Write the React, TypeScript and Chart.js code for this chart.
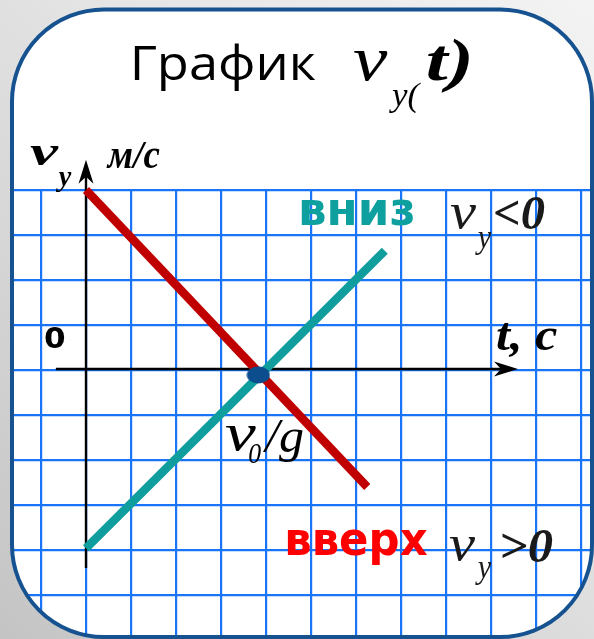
import React, { useEffect, useRef } from "react";
import { Chart, registerables } from "chart.js";

Chart.register(...registerables);

// ---- data (time in grid units, velocity in grid units) ----
const redT = [0, 6.25];
const redV = [4, -2.6];
const tealT = [0, 6.64];
const tealV = [-3.96, 2.65];
const dotT = [3.83];
const dotV = [-0.11];

// axis extents in data units
const xAxisFrom = -0.67;
const xAxisTo = 9.6;
const yAxisFrom = -4.4;
const yAxisTo = 4.67;

// scale ranges (1 unit = one grid cell)
const xMin = -1.6444;
const xMax = 11.2444;
const yMin = -5.9778;
const yMax = 4;

const titleText = "График";
const labelDown = "вниз";
const labelUp = "вверх";
const zeroLabel = "0";
const unitLabel = "м/с";
const timeLabel = "t, c";

const W = 594;
const H = 639;
const RECT = { x: 12, y: 9.5, w: 580, h: 627.5, r: 92 };

const SERIF = '"Liberation Serif", "DejaVu Serif", serif';
const SANS = '"Open Sans", "DejaVu Sans", sans-serif';
const BOLDSANS = '"DejaVu Sans", "Open Sans", sans-serif';

function roundRectPath(ctx: CanvasRenderingContext2D) {
  const { x, y, w, h, r } = RECT;
  ctx.beginPath();
  ctx.moveTo(x + r, y);
  ctx.lineTo(x + w - r, y);
  ctx.arcTo(x + w, y, x + w, y + r, r);
  ctx.lineTo(x + w, y + h - r);
  ctx.arcTo(x + w, y + h, x + w - r, y + h, r);
  ctx.lineTo(x + r, y + h);
  ctx.arcTo(x, y + h, x, y + h - r, r);
  ctx.lineTo(x, y + r);
  ctx.arcTo(x, y, x + r, y, r);
  ctx.closePath();
}

function txt(
  ctx: CanvasRenderingContext2D,
  text: string,
  x: number,
  baseline: number,
  font: string,
  color: string,
  targetWidth?: number
) {
  ctx.save();
  ctx.font = font;
  ctx.fillStyle = color;
  ctx.textAlign = "left";
  ctx.textBaseline = "alphabetic";
  const m = ctx.measureText(text);
  const ink = m.actualBoundingBoxRight + m.actualBoundingBoxLeft;
  const s = targetWidth && ink > 0 ? targetWidth / ink : 1;
  ctx.translate(x, baseline);
  ctx.scale(s, 1);
  ctx.fillText(text, m.actualBoundingBoxLeft, 0);
  ctx.restore();
}

function arrowHead(
  ctx: CanvasRenderingContext2D,
  tipX: number,
  tipY: number,
  dir: "up" | "right"
) {
  ctx.save();
  ctx.translate(tipX, tipY);
  if (dir === "right") ctx.rotate(Math.PI / 2);
  ctx.beginPath();
  ctx.moveTo(0, 0);
  ctx.lineTo(7.5, 24);
  ctx.lineTo(0, 17);
  ctx.lineTo(-7.5, 24);
  ctx.closePath();
  ctx.fillStyle = "#000";
  ctx.fill();
  ctx.restore();
}

const slidePlugin = {
  id: "slide",
  beforeDraw(chart: any) {
    const ctx: CanvasRenderingContext2D = chart.ctx;
    ctx.save();
    const g = ctx.createLinearGradient(0, H, W, 0);
    g.addColorStop(0, "#c4c4c4");
    g.addColorStop(0.6, "#e4e4e4");
    g.addColorStop(1, "#f3f3f3");
    ctx.fillStyle = g;
    ctx.fillRect(0, 0, W, H);
    roundRectPath(ctx);
    ctx.fillStyle = "#ffffff";
    ctx.fill();
    ctx.restore();
    ctx.save();
    roundRectPath(ctx);
    ctx.clip();
  },
  beforeDatasetsDraw(chart: any) {
    const ctx: CanvasRenderingContext2D = chart.ctx;
    const xs = chart.scales.x;
    const ys = chart.scales.y;
    const x0 = xs.getPixelForValue(0);
    const y0 = ys.getPixelForValue(0) - 1;
    ctx.save();
    ctx.strokeStyle = "#000";
    ctx.lineWidth = 2.4;
    // x axis
    const xa = xs.getPixelForValue(xAxisFrom);
    const xb = xs.getPixelForValue(xAxisTo);
    ctx.beginPath();
    ctx.moveTo(xa, y0);
    ctx.lineTo(xb - 10, y0);
    ctx.stroke();
    arrowHead(ctx, xb, y0, "right");
    // y axis
    const ya = ys.getPixelForValue(yAxisFrom);
    const yb = ys.getPixelForValue(yAxisTo);
    ctx.beginPath();
    ctx.moveTo(x0, ya);
    ctx.lineTo(x0, yb + 10);
    ctx.stroke();
    arrowHead(ctx, x0, yb, "up");
    ctx.restore();
  },
  afterDraw(chart: any) {
    const ctx: CanvasRenderingContext2D = chart.ctx;
    ctx.restore();
    ctx.save();
    roundRectPath(ctx);
    ctx.strokeStyle = "#15528f";
    ctx.lineWidth = 4;
    ctx.stroke();
    ctx.restore();

    // title
    txt(ctx, titleText, 134, 80, `48px ${SANS}`, "#000", 182);
    txt(ctx, "v", 353, 80, `italic 64px ${SERIF}`, "#000", 35);
    txt(ctx, "y(", 389, 106, `italic 34px ${SERIF}`, "#000", 33);
    txt(ctx, "t)", 427, 80, `italic bold 60px ${SERIF}`, "#000", 43);

    // y-axis label
    txt(ctx, "v", 30, 165, `italic bold 42px ${SERIF}`, "#000", 30);
    txt(ctx, "y", 56, 186, `italic bold 30px ${SERIF}`, "#000", 16);
    txt(ctx, unitLabel, 106, 168, `italic bold 40px ${SERIF}`, "#000", 54);

    // zero
    txt(ctx, zeroLabel, 45, 348, `bold 28px ${BOLDSANS}`, "#000", 20);

    // t, c
    txt(ctx, timeLabel, 497, 350, `italic bold 46px ${SERIF}`, "#000", 60);

    // вниз  v_y < 0
    txt(ctx, labelDown, 301, 225, `bold 46px ${BOLDSANS}`, "#0e9f9f", 112);
    txt(ctx, "v", 450, 228, `italic 50px ${SERIF}`, "#1a1a1a", 27);
    txt(ctx, "y", 475, 248, `italic 34px ${SERIF}`, "#1a1a1a", 17);
    txt(ctx, "<0", 495, 229, `italic bold 48px ${SERIF}`, "#1a1a1a", 50);

    // v0/g
    txt(ctx, "v", 225, 450, `italic 52px ${SERIF}`, "#000", 32);
    txt(ctx, "0", 249, 463, `italic 30px ${SERIF}`, "#000", 12);
    txt(ctx, "/g", 262, 452, `italic 48px ${SERIF}`, "#000", 41);

    // вверх  v_y > 0
    txt(ctx, labelUp, 287, 555, `bold 46px ${BOLDSANS}`, "#ff0000", 140);
    txt(ctx, "v", 449, 560, `italic 50px ${SERIF}`, "#1a1a1a", 27);
    txt(ctx, "y", 475, 578, `italic 34px ${SERIF}`, "#1a1a1a", 17);
    txt(ctx, ">0", 502, 562, `italic bold 48px ${SERIF}`, "#1a1a1a", 51);
  },
};

function makeDot(): HTMLCanvasElement {
  const c = document.createElement("canvas");
  c.width = 24;
  c.height = 18;
  const g = c.getContext("2d")!;
  g.beginPath();
  g.ellipse(12, 9, 11.5, 8.5, 0, 0, Math.PI * 2);
  g.fillStyle = "#0c4d8d";
  g.fill();
  return c;
}

export default function App() {
  const ref = useRef<HTMLCanvasElement | null>(null);

  useEffect(() => {
    document.body.style.margin = "0";
    if (!ref.current) return;
    const dot = makeDot();
    const toPts = (t: number[], v: number[]) => t.map((x, i) => ({ x, y: v[i] }));
    const chart = new Chart(ref.current, {
      type: "scatter",
      data: {
        datasets: [
          {
            data: toPts(dotT, dotV),
            showLine: false,
            pointStyle: dot,
            pointRadius: 10,
            clip: false,
            order: 0,
          } as any,
          {
            data: toPts(redT, redV),
            showLine: true,
            borderColor: "#c00000",
            borderWidth: 8.5,
            borderCapStyle: "butt",
            pointRadius: 0,
            clip: false,
            order: 1,
          } as any,
          {
            data: toPts(tealT, tealV),
            showLine: true,
            borderColor: "#109d9d",
            borderWidth: 8.5,
            borderCapStyle: "butt",
            pointRadius: 0,
            clip: false,
            order: 2,
          } as any,
        ],
      },
      options: {
        responsive: false,
        animation: false,
        devicePixelRatio: 1,
        events: [],
        layout: { autoPadding: false, padding: { left: 12, top: 190, right: 2, bottom: 0 } },
        plugins: {
          legend: { display: false },
          tooltip: { enabled: false },
          title: { display: false },
        },
        scales: {
          x: {
            type: "linear",
            min: xMin,
            max: xMax,
            border: { display: false },
            ticks: { display: false, stepSize: 1, includeBounds: false },
            grid: { color: "#1a74f7", lineWidth: 2.2, drawTicks: false },
            afterFit: (s: any) => {
              s.height = 0;
            },
          },
          y: {
            type: "linear",
            min: yMin,
            max: yMax,
            border: { display: false },
            ticks: { display: false, stepSize: 1, includeBounds: false },
            grid: { color: "#1a74f7", lineWidth: 2.2, drawTicks: false },
            afterFit: (s: any) => {
              s.width = 0;
            },
          },
        },
      } as any,
      plugins: [slidePlugin],
    });
    return () => chart.destroy();
  }, []);

  return (
    <div style={{ position: "fixed", left: 0, top: 0, width: W, height: H }}>
      <canvas ref={ref} width={W} height={H} style={{ display: "block" }} />
    </div>
  );
}
